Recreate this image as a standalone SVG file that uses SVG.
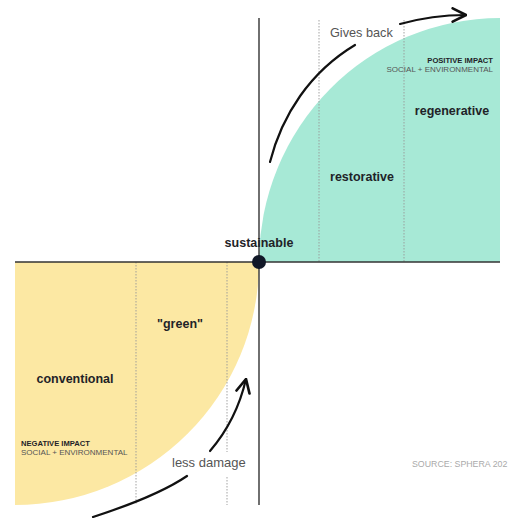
<svg xmlns="http://www.w3.org/2000/svg" width="520" height="518" viewBox="0 0 520 518">
<style>
.lbl{font-family:"Liberation Sans",Arial,sans-serif;font-weight:bold;font-size:12.5px;fill:#1f2328;text-anchor:middle}
.imp{font-family:"Liberation Sans",Arial,sans-serif;font-weight:bold;font-size:7.6px;fill:#1f2328}
.sub{font-family:"Liberation Sans",Arial,sans-serif;font-size:8px;fill:#555}
.note{font-family:"Liberation Sans",Arial,sans-serif;font-size:12.7px;fill:#555}
.dot{stroke:#999;stroke-width:0.9;stroke-dasharray:1.5 1.5;fill:none}
.axis{stroke:#333;stroke-width:1.4;fill:none}
.arr{stroke:#111;stroke-width:2.2;fill:none;stroke-linecap:round}
</style>
<defs>
<marker id="chev" markerUnits="userSpaceOnUse" markerWidth="16" markerHeight="16" viewBox="0 0 12 12" refX="11" refY="6" orient="auto">
<path d="M1,1 L11,6 L1,11" fill="none" stroke="#111" stroke-width="2" stroke-linecap="round" stroke-linejoin="round"/>
</marker>
</defs>
<rect width="520" height="518" fill="#ffffff"/>
<g id="regions">
<path id="positive-area" d="M259,262 A241,244 0 0 1 500,18 L500,262 Z" fill="#a7e9d6"/>
<path id="negative-area" d="M15,262 L259,262 A244,243 0 0 1 15,505 Z" fill="#fce8a3"/>
</g>
<g id="gridlines">
<line class="dot" x1="319" y1="20" x2="319" y2="262"/>
<line class="dot" x1="404" y1="20" x2="404" y2="262"/>
<line class="dot" x1="136" y1="262" x2="136" y2="505"/>
<line class="dot" x1="227" y1="262" x2="227" y2="452"/>
<line class="dot" x1="227" y1="477" x2="227" y2="505"/>
</g>
<g id="axes">
<line class="axis" x1="259" y1="18" x2="259" y2="505"/>
<line class="axis" x1="15" y1="262" x2="500" y2="262"/>
</g>
<g id="connectors">
<path class="arr" d="M270,162 C282,115 310,72 355,45"/>
<path class="arr" d="M400,24 C425,17 445,15 466,15" marker-end="url(#chev)"/>
<path class="arr" d="M93,517 C130,505 165,491 187,476"/>
<path class="arr" d="M210,451 C228,430 240,405 246,379" marker-end="url(#chev)"/>
</g>
<g id="sustainable">
<circle cx="259" cy="262" r="7" fill="#111827"/>
<text class="lbl" x="259" y="247">sustainable</text>
</g>
<g id="restorative"><text class="lbl" x="362" y="181">restorative</text></g>
<g id="regenerative"><text class="lbl" x="452" y="115">regenerative</text></g>
<g id="green"><text class="lbl" x="180" y="328">"green"</text></g>
<g id="conventional"><text class="lbl" x="75" y="383">conventional</text></g>
<g id="positive-impact">
<text class="imp" x="493" y="63" text-anchor="end">POSITIVE IMPACT</text>
<text class="sub" x="493" y="72" text-anchor="end">SOCIAL + ENVIRONMENTAL</text>
</g>
<g id="negative-impact">
<text class="imp" x="21" y="446">NEGATIVE IMPACT</text>
<text class="sub" x="21" y="455">SOCIAL + ENVIRONMENTAL</text>
</g>
<g id="notes">
<text class="note" x="330" y="37">Gives back</text>
<text class="note" x="172" y="467" style="font-size:13px">less damage</text>
<text x="412" y="467" style="font-family:'Liberation Sans',Arial,sans-serif;font-size:8.8px;fill:#aaa">SOURCE: SPHERA 202</text>
</g>
</svg>
